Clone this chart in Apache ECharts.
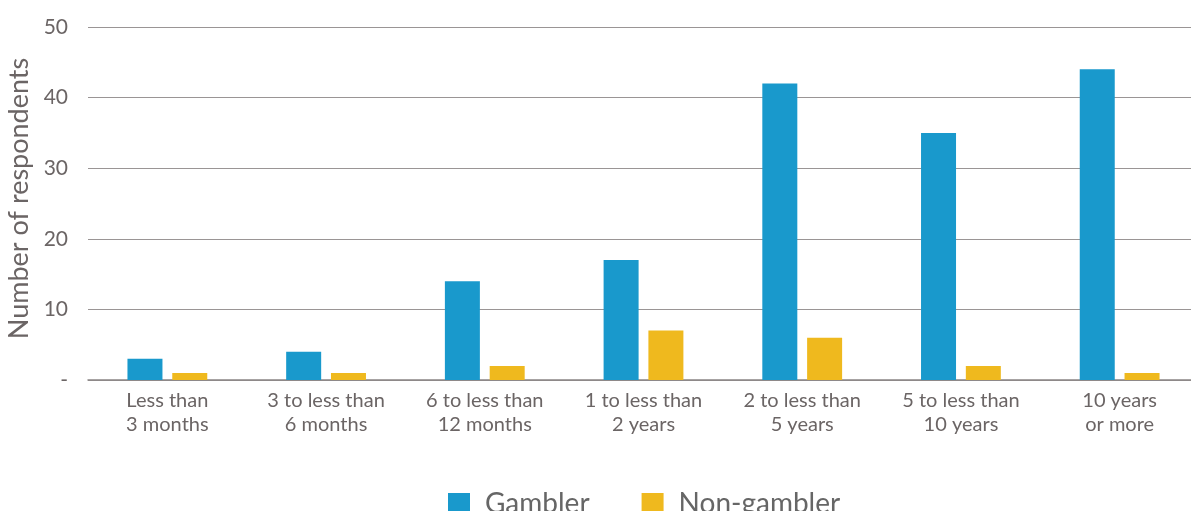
<!DOCTYPE html>
<html><head><meta charset="utf-8">
<script src="https://cdn.jsdelivr.net/npm/echarts@6/dist/echarts.min.js"></script>
<style>html,body{margin:0;padding:0;background:#fff}#c{width:1191px;height:511px}</style>
</head><body><div id="c"></div>
<script>
const categories = ["Less than\n3 months","3 to less than\n6 months","6 to less than\n12 months","1 to less than\n2 years","2 to less than\n5 years","5 to less than\n10 years","10 years\nor more"];
const gambler = [3, 4, 14, 17, 42, 35, 44];
const nonGambler = [1, 1, 2, 7, 6, 2, 1];
const yTicks = {min: 0, max: 50, interval: 10};

const chart = echarts.init(document.getElementById('c'), null, {renderer: 'canvas'});
const font = 'Lato, "Open Sans", sans-serif';
chart.setOption({
  animation: false,
  textStyle: {fontFamily: font},
  grid: {left: 88, top: 27, right: -8, height: 353, containLabel: false, outerBoundsMode: 'none'},
  legend: {
    top: 485, left: 443, itemWidth: 22, itemHeight: 22, itemGap: 52,
    icon: 'rect',
    textStyle: {fontSize: 28, color: '#666', fontFamily: font, padding: [0,0,0,10]},
    data: ['Gambler', 'Non-gambler']
  },
  xAxis: {
    type: 'category', data: categories,
    axisLine: {lineStyle: {color: '#8a8585', width: 1.5}},
    axisTick: {show: false},
    axisLabel: {interval: 0, fontSize: 20, color: '#6b6565', lineHeight: 24, margin: 9, fontFamily: font}
  },
  yAxis: {
    type: 'value', min: yTicks.min, max: yTicks.max, interval: yTicks.interval,
    name: 'Number of respondents', nameLocation: 'middle', nameGap: 53, nameRotate: 90,
    nameTextStyle: {fontSize: 27, color: '#6b6565', fontFamily: font, padding: [0, 0, 0, 10]},
    axisLine: {show: false}, axisTick: {show: false},
    axisLabel: {fontSize: 21, color: '#6b6565', margin: 20, fontFamily: font,
      formatter: v => v === 0 ? '-' : String(v)},
    splitLine: {lineStyle: {color: '#9a9595', width: 1}}
  },
  series: [
    {name: 'Gambler', type: 'bar', data: gambler, barWidth: 35, barGap: '28%',
     itemStyle: {color: '#1999CC'}},
    {name: 'Non-gambler', type: 'bar', data: nonGambler, barWidth: 35,
     itemStyle: {color: '#EFB91E'}}
  ]
});
</script></body></html>
